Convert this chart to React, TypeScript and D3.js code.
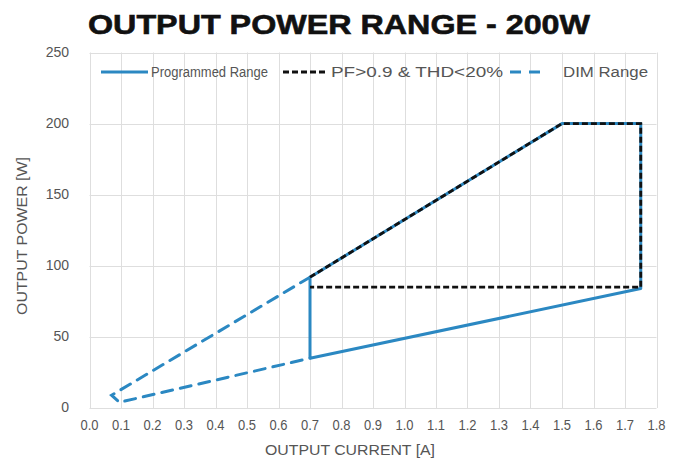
import React, { useRef, useEffect } from "react";
import * as d3 from "d3";

// chart data
const programmedCurrent = [0.7, 1.75, 1.75, 1.5, 0.7, 0.7];
const programmedPower = [35, 84, 200, 200, 92, 35];

const pfCurrent = [0.7, 1.5, 1.75, 1.75, 0.7];
const pfPower = [92, 200, 200, 85, 85];

const dimCurrent = [0.7, 0.07, 0.095, 0.7];
const dimPower = [92, 9, 4, 35];

const xTicks = [0, 0.1, 0.2, 0.3, 0.4, 0.5, 0.6, 0.7, 0.8, 0.9, 1.0, 1.1, 1.2, 1.3, 1.4, 1.5, 1.6, 1.7, 1.8];
const yTicks = [0, 50, 100, 150, 200, 250];

const legendLabels = ["Programmed Range", "PF>0.9 & THD<20%", "DIM Range"];

const W = 681,
	H = 464;
const BLUE = "#2b88c2";
const GRID = "#dedede";
const TEXT = "#555555";
const FONT = "'Liberation Sans', Arial, sans-serif";

const drawChart = (svgEl: SVGSVGElement) => {
	const svg = d3.select(svgEl);
	svg.selectAll("*").remove();

	const x = d3.scaleLinear().domain([0, 1.8]).range([89.5, 656.5]);
	const y = d3.scaleLinear().domain([0, 250]).range([408, 52.5]);

	// title
	svg
		.append("text")
		.attr("x", 339)
		.attr("y", 34)
		.attr("text-anchor", "middle")
		.attr("font-family", FONT)
		.attr("font-weight", "bold")
		.attr("font-size", 28)
		.attr("textLength", 502)
		.attr("lengthAdjust", "spacingAndGlyphs")
		.attr("fill", "#111")
		.attr("stroke", "#111")
		.attr("stroke-width", 0.6)
		.text("OUTPUT POWER RANGE - 200W");

	// grid
	const grid = svg.append("g").attr("stroke", GRID).attr("stroke-width", 1);
	grid
		.selectAll("line.v")
		.data(xTicks)
		.enter()
		.append("line")
		.attr("x1", (d) => Math.round(x(d)) + 0.5)
		.attr("x2", (d) => Math.round(x(d)) + 0.5)
		.attr("y1", y(250))
		.attr("y2", y(0));
	grid
		.selectAll("line.h")
		.data(yTicks)
		.enter()
		.append("line")
		.attr("x1", x(0))
		.attr("x2", x(1.8))
		.attr("y1", (d) => Math.round(y(d)) + 0.5)
		.attr("y2", (d) => Math.round(y(d)) + 0.5);

	// tick labels
	svg
		.append("g")
		.selectAll("text")
		.data(xTicks)
		.enter()
		.append("text")
		.attr("x", (d) => x(d))
		.attr("y", 430)
		.attr("text-anchor", "middle")
		.attr("font-family", FONT)
		.attr("font-size", 14)
		.attr("textLength", 18)
		.attr("lengthAdjust", "spacingAndGlyphs")
		.attr("fill", TEXT)
		.text((d) => d.toFixed(1));

	svg
		.append("g")
		.selectAll("text")
		.data(yTicks)
		.enter()
		.append("text")
		.attr("x", 69)
		.attr("y", (d) => y(d) + 4)
		.attr("text-anchor", "end")
		.attr("font-family", FONT)
		.attr("font-size", 14)
		.attr("fill", TEXT)
		.text((d) => d);

	// axis titles
	svg
		.append("text")
		.attr("x", 350)
		.attr("y", 455)
		.attr("text-anchor", "middle")
		.attr("font-family", FONT)
		.attr("font-size", 14)
		.attr("textLength", 170)
		.attr("lengthAdjust", "spacingAndGlyphs")
		.attr("fill", TEXT)
		.text("OUTPUT  CURRENT [A]");

	svg
		.append("text")
		.attr("transform", "translate(27,236) rotate(-90)")
		.attr("text-anchor", "middle")
		.attr("font-family", FONT)
		.attr("font-size", 14)
		.attr("textLength", 158)
		.attr("lengthAdjust", "spacingAndGlyphs")
		.attr("fill", TEXT)
		.text("OUTPUT  POWER [W]");

	const line = d3
		.line<[number, number]>()
		.x((d) => x(d[0]))
		.y((d) => y(d[1]));

	const dimPts = dimCurrent.map((c, i) => [c, dimPower[i]] as [number, number]);
	const progPts = programmedCurrent.map((c, i) => [c, programmedPower[i]] as [number, number]);
	const pfPts = pfCurrent.map((c, i) => [c, pfPower[i]] as [number, number]);

	svg
		.append("path")
		.attr("d", line(dimPts))
		.attr("fill", "none")
		.attr("stroke", BLUE)
		.attr("stroke-width", 3)
		.attr("stroke-dasharray", "11,8")
		.attr("stroke-linecap", "round");

	svg
		.append("path")
		.attr("d", line(progPts))
		.attr("fill", "none")
		.attr("stroke", BLUE)
		.attr("stroke-width", 3)
		.attr("stroke-linejoin", "round");

	svg
		.append("path")
		.attr("d", line(pfPts))
		.attr("fill", "none")
		.attr("stroke", "#111")
		.attr("stroke-width", 2.8)
		.attr("stroke-dasharray", "6,3");

	// legend
	const legend = svg.append("g").attr("font-family", FONT).attr("font-size", 14).attr("fill", TEXT);
	const ly = 72;
	const items = [
		{ x1: 101, x2: 148, tx: 151, tw: 117, stroke: BLUE, dash: null, w: 3 },
		{ x1: 283, x2: 328, tx: 331, tw: 172, stroke: "#111", dash: "6,3", w: 2.8 },
		{ x1: 510, x2: 546, tx: 563, tw: 85, stroke: BLUE, dash: "11,8", w: 3 },
	];
	items.forEach((it, i) => {
		legend
			.append("line")
			.attr("x1", it.x1)
			.attr("x2", it.x2)
			.attr("y1", ly)
			.attr("y2", ly)
			.attr("stroke", it.stroke)
			.attr("stroke-width", it.w)
			.attr("stroke-dasharray", it.dash);
		legend
			.append("text")
			.attr("x", it.tx)
			.attr("y", ly + 5)
			.attr("textLength", it.tw)
			.attr("lengthAdjust", "spacingAndGlyphs")
			.text(legendLabels[i]);
	});
};

const App = () => {
	const svgRef = useRef<SVGSVGElement>(null);

	useEffect(() => {
		if (svgRef.current) drawChart(svgRef.current);
	}, []);

	return (
		<svg
			ref={svgRef}
			width={W}
			height={H}
			style={{ position: "absolute", left: 0, top: 0, background: "#fff" }}
		/>
	);
};

export default App;
